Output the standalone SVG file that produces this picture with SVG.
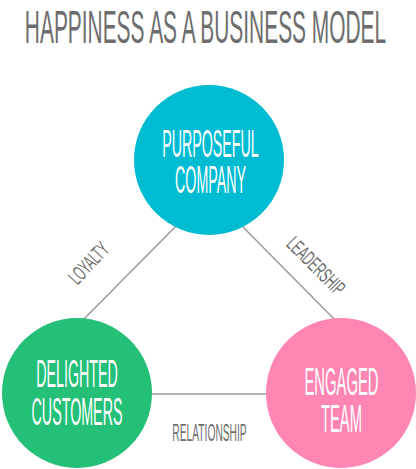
<svg xmlns="http://www.w3.org/2000/svg" width="416" height="469" viewBox="0 0 416 469">
<style>
text{font-family:"Liberation Sans",Arial,sans-serif;text-anchor:middle}
.title{fill:#6d6d6d;font-size:47px}
.node{fill:#ffffff;font-size:39px}
.lbl{fill:#6d6d6d;font-size:21px}
.conn{stroke:#9a9a9a;stroke-width:1.5;fill:none}
</style>
<rect width="416" height="469" fill="#ffffff"/>
<text class="title" x="0" y="0" transform="translate(205.5,42.5) scale(0.445,1)">HAPPINESS AS A BUSINESS MODEL</text>
<g id="connectors">
<line class="conn" x1="180" y1="222" x2="80" y2="323"/>
<line class="conn" x1="238" y1="222" x2="338" y2="323"/>
<line class="conn" x1="140" y1="394" x2="280" y2="394"/>
<text class="lbl" x="0" y="0" transform="translate(94,268) rotate(-47) scale(0.529,1)">LOYALTY</text>
<text class="lbl" x="0" y="0" transform="translate(311,271) rotate(45) scale(0.549,1)">LEADERSHIP</text>
<text class="lbl" x="0" y="0" style="font-size:23px" transform="translate(209.5,440.5) scale(0.445,1)">RELATIONSHIP</text>
</g>
<g id="purposeful-company">
<circle cx="209" cy="160" r="75" fill="#00bcd2"/>
<text class="node" transform="translate(210.5,157) scale(0.365,1)"><tspan x="0" y="0">PURPOSEFUL</tspan><tspan x="0" y="36">COMPANY</tspan></text>
</g>
<g id="delighted-customers">
<circle cx="77" cy="393" r="75" fill="#24c077"/>
<text class="node" transform="translate(77,387) scale(0.366,1)"><tspan x="0" y="0">DELIGHTED</tspan><tspan x="0" y="38">CUSTOMERS</tspan></text>
</g>
<g id="engaged-team">
<circle cx="341" cy="393" r="75" fill="#ff85b5"/>
<text class="node" transform="translate(341.5,395) scale(0.38,1)"><tspan x="0" y="0">ENGAGED</tspan><tspan x="0" y="37">TEAM</tspan></text>
</g>
</svg>
